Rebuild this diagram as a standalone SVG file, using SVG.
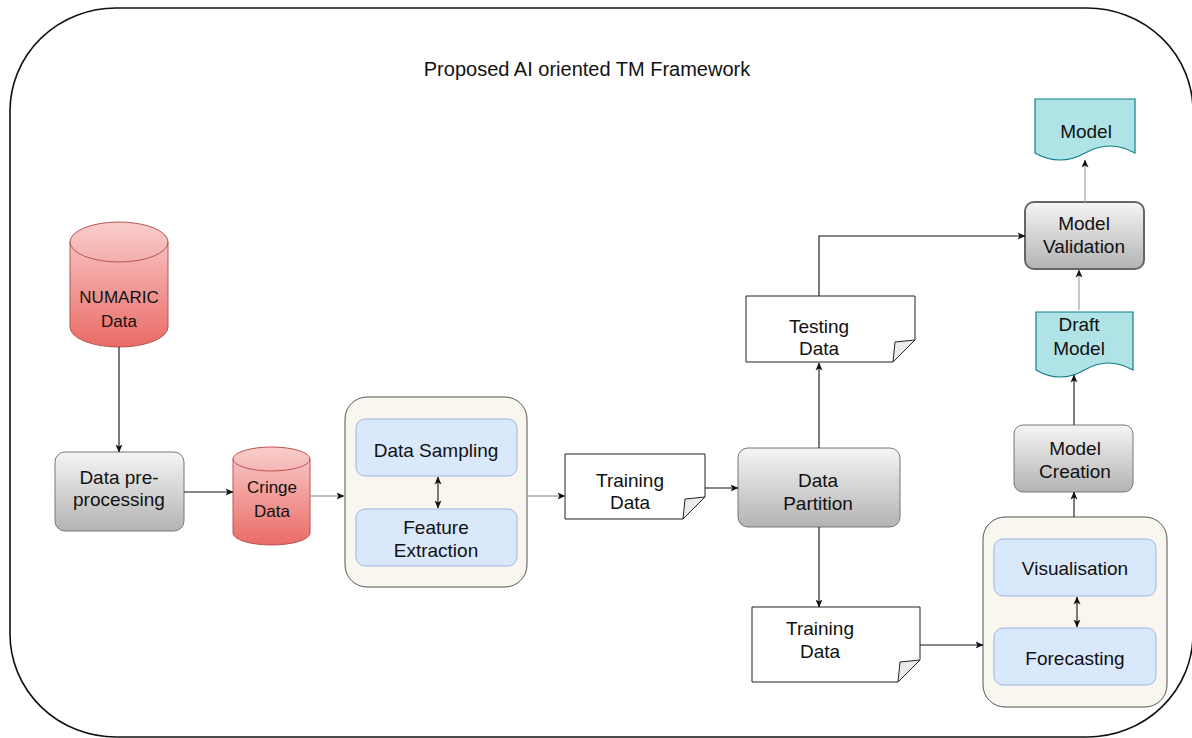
<svg xmlns="http://www.w3.org/2000/svg" width="1192" height="738" viewBox="0 0 1192 738">
<style>
text{font-family:"Liberation Sans",Arial,sans-serif;font-size:19px;fill:#111;text-anchor:middle}
.sm{font-size:17px}
.title{font-size:20px}
.gray{fill:url(#gGray);stroke:#777;stroke-width:1}
.red{fill:url(#gRed);stroke:#b85450;stroke-width:1}
.cont{fill:#f8f6ee;stroke:#555;stroke-width:1}
.blue{fill:#dae8fc;stroke:#9db6dd;stroke-width:1}
.doc{fill:#fff;stroke:#222;stroke-width:1}
.fold{fill:#ebebeb;stroke:#222;stroke-width:1}
.teal{fill:#b0e3e6;stroke:#0e8088;stroke-width:1.2}
.c{fill:none;stroke:#111;stroke-width:1.1}
.cg{fill:none;stroke:#aaa;stroke-width:1.3}
</style>
<defs>
<linearGradient id="gGray" x1="0" y1="0" x2="0" y2="1"><stop offset="0" stop-color="#f5f5f5"/><stop offset="1" stop-color="#b3b3b3"/></linearGradient>
<linearGradient id="gRed" x1="0" y1="0" x2="0" y2="1"><stop offset="0" stop-color="#f8cecc"/><stop offset="1" stop-color="#ea6b66"/></linearGradient>
<marker id="ah" viewBox="0 0 8 8" refX="7.5" refY="4" markerWidth="8" markerHeight="8" markerUnits="userSpaceOnUse" orient="auto-start-reverse"><path d="M0,0.5 L8,4 L0,7.5 L2,4 Z" fill="#111"/></marker>
</defs>
<rect x="10" y="8" width="1183" height="729" rx="106" ry="103" fill="#fff" stroke="#111" stroke-width="1.6"/>
<text class="title" x="587" y="76">Proposed AI oriented TM Framework</text>

<g id="numaric">
<path class="red" d="M70,242 A49,20 0 0 1 168,242 V327 A49,20 0 0 1 70,327 Z"/>
<path fill="none" stroke="#b85450" d="M70,242 A49,20 0 0 0 168,242"/>
<text class="sm" x="119" y="303">NUMARIC</text>
<text class="sm" x="119" y="327">Data</text>
</g>

<g id="preprocessing">
<rect class="gray" x="55" y="452" width="129" height="79" rx="10"/>
<text x="119" y="484">Data pre-</text>
<text x="119" y="506">processing</text>
</g>

<g id="cringe">
<path class="red" d="M233,459 A38.5,12 0 0 1 310,459 V533 A38.5,12 0 0 1 233,533 Z"/>
<path fill="none" stroke="#b85450" d="M233,459 A38.5,12 0 0 0 310,459"/>
<text class="sm" x="272" y="493">Cringe</text>
<text class="sm" x="272" y="517">Data</text>
</g>

<g id="container1">
<rect class="cont" x="345" y="397" width="182" height="190" rx="22"/>
</g>
<g id="sampling">
<rect class="blue" x="356" y="419" width="161" height="57" rx="9"/>
<text x="436" y="457">Data Sampling</text>
</g>
<g id="feature">
<rect class="blue" x="356" y="509" width="161" height="57" rx="9"/>
<text x="436" y="534">Feature</text>
<text x="436" y="557">Extraction</text>
</g>

<g id="training1">
<path class="doc" d="M565,454 H705 V497 L683,519 H565 Z"/>
<path class="fold" d="M683,519 L685,499 L705,497 Z"/>
<text x="630" y="487">Training</text>
<text x="630" y="509">Data</text>
</g>

<g id="partition">
<rect class="gray" x="738" y="448" width="162" height="79" rx="10"/>
<text x="818" y="487">Data</text>
<text x="818" y="510">Partition</text>
</g>

<g id="testing">
<path class="doc" d="M746,296 H915 V340 L893,362 H746 Z"/>
<path class="fold" d="M893,362 L895,342 L915,340 Z"/>
<text x="819" y="333">Testing</text>
<text x="819" y="355">Data</text>
</g>

<g id="training2">
<path class="doc" d="M752,607 H920 V660 L898,682 H752 Z"/>
<path class="fold" d="M898,682 L900,662 L920,660 Z"/>
<text x="820" y="635">Training</text>
<text x="820" y="658">Data</text>
</g>

<g id="container2">
<rect class="cont" x="983" y="517" width="184" height="190" rx="22"/>
</g>
<g id="visualisation">
<rect class="blue" x="994" y="539" width="162" height="57" rx="9"/>
<text x="1075" y="575">Visualisation</text>
</g>
<g id="forecasting">
<rect class="blue" x="994" y="628" width="162" height="57" rx="9"/>
<text x="1075" y="665">Forecasting</text>
</g>

<g id="creation">
<rect class="gray" x="1014" y="425" width="119" height="67" rx="9"/>
<text x="1075" y="455">Model</text>
<text x="1075" y="478">Creation</text>
</g>

<g id="draft">
<path class="teal" d="M1036,312 H1133 V370 Q1108,356 1084.5,370 Q1060,384 1036,370 Z"/>
<text x="1079" y="331">Draft</text>
<text x="1079" y="355">Model</text>
</g>

<g id="validation">
<rect class="gray" x="1025" y="202" width="119" height="67" rx="9" style="stroke:#666;stroke-width:2"/>
<text x="1084" y="230">Model</text>
<text x="1084" y="253">Validation</text>
</g>

<g id="model">
<path class="teal" d="M1035,99 H1135 V153 Q1110,139 1085,153 Q1060,167 1035,153 Z"/>
<text x="1086" y="138">Model</text>
</g>

<g id="connectors">
<path class="c" d="M119,347 V452" marker-end="url(#ah)"/>
<path class="c" d="M184,492 H233" marker-end="url(#ah)"/>
<path class="cg" d="M310,496 H344" marker-end="url(#ah)"/>
<path class="c" d="M438,477 V508" marker-start="url(#ah)" marker-end="url(#ah)"/>
<path class="cg" d="M527,496 H565" marker-end="url(#ah)"/>
<path class="c" d="M705,488 H738" marker-end="url(#ah)"/>
<path class="c" d="M819,448 V363" marker-end="url(#ah)"/>
<path class="c" d="M819,296 V236 H1025" marker-end="url(#ah)"/>
<path class="c" d="M819,527 V607" marker-end="url(#ah)"/>
<path class="c" d="M920,645 H983" marker-end="url(#ah)"/>
<path class="c" d="M1077,597 V627" marker-start="url(#ah)" marker-end="url(#ah)"/>
<path class="c" d="M1074,517 V492" marker-end="url(#ah)"/>
<path class="c" d="M1074,425 V375" marker-end="url(#ah)"/>
<path class="cg" d="M1079,310 V270" marker-end="url(#ah)"/>
<path class="cg" d="M1085,202 V160" marker-end="url(#ah)"/>
</g>
</svg>
